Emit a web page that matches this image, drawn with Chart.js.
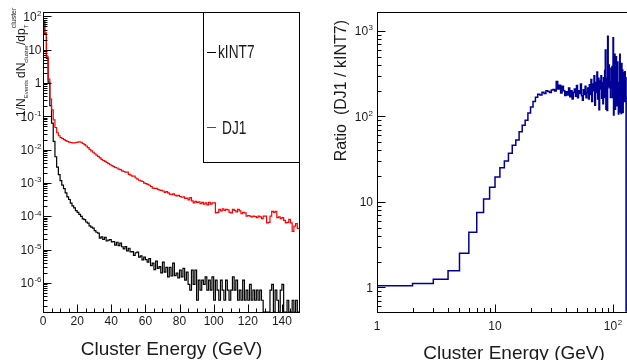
<!DOCTYPE html>
<html>
<head>
<meta charset="utf-8">
<script src="https://cdn.jsdelivr.net/npm/chart.js@4.4.1/dist/chart.umd.min.js"></script>
<style>
  html, body { margin: 0; padding: 0; background: #fff; }
  body { width: 627px; height: 360px; overflow: hidden; position: relative; }
  canvas { position: absolute; top: 0; }
  #spectra { left: 0; }
  #ratio { left: 313px; }
</style>
</head>
<body>
<canvas id="spectra" width="313" height="360"></canvas>
<canvas id="ratio" width="340" height="360"></canvas>
<script>
// Cluster energy spectra, 1 GeV bins from 0 to 150 GeV (bin i covers [i, i+1))
const kint7 = [
  72, 30.8, 5.5, 1.05, 0.21, 0.062, 0.0177, 0.0061, 0.00296, 0.00176,
  1.17e-3, 8.6e-4, 6.7e-4, 5.0e-4, 3.8e-4, 3.17e-4, 2.47e-4, 2.03e-4, 1.78e-4, 1.48e-4,
  1.30e-4, 1.13e-4, 9.9e-5, 8.35e-5, 7.9e-5, 6.7e-5, 6.2e-5, 5.1e-5, 4.7e-5, 4.4e-5,
  3.7e-5, 3.3e-5, 3.1e-5, 2.2e-5, 2.4e-5, 2.0e-5, 2.3e-5, 1.8e-5, 1.9e-5, 2.0e-5,
  1.69e-5, 1.74e-5, 1.35e-5, 1.65e-5, 1.30e-5, 1.56e-5, 1.21e-5, 1.05e-5, 1.22e-5, 9.1e-6,
  1.09e-5, 8.5e-6, 8.6e-6, 6.7e-6, 8.0e-6, 8.4e-6, 5.9e-6, 6.4e-6, 4.9e-6, 5.9e-6,
  5.0e-6, 4.2e-6, 5.3e-6, 3.3e-6, 3.9e-6, 2.5e-6, 4.5e-6, 2.7e-6, 3.05e-6, 2.0e-6,
  4.2e-6, 2.1e-6, 2.9e-6, 1.5e-6, 2.9e-6, 1.6e-6, 3.9e-6, 1.65e-6, 1.95e-6, 1.4e-6,
  2.4e-6, 1.5e-6, 2.7e-6, 1.2e-6, 2.1e-6, 9e-7, 6e-7, 2.4e-6, 9e-7, 2.4e-6,
  3e-7, 1.2e-6, 6e-7, 1.2e-6, 9e-7, 1.5e-6, 6e-7, 1.2e-6, 6e-7, 1.5e-6,
  3e-7, 1.2e-6, 6e-7, 3e-7, 1.2e-6, 6e-7, 3e-7, 1.2e-6, 6e-7, 3e-7,
  6e-7, 1.5e-6, 6e-7, 1.2e-6, 3e-7, 6e-7, 3e-7, 1.2e-6, 3e-7, 6e-7,
  3e-7, 9e-7, 3e-7, 6e-7, 3e-7, 6e-7, 3e-7, 6e-7, 3e-7, 0,
  0, 0, 0, 6e-7, 9e-7, 0, 6e-7, 3e-7, 0, 6e-7,
  9e-7, 0, 0, 3e-7, 0, 0, 3e-7, 0, 3e-7, 0
];
const dj1 = [
  75, 32, 6.1, 1.3, 0.33, 0.155, 0.078, 0.046, 0.032, 0.026,
  0.023, 0.0215, 0.020, 0.0185, 0.0175, 0.0168, 0.0163, 0.0160, 0.0160, 0.0163,
  0.0168, 0.0170, 0.0166, 0.0152, 0.0140, 0.0128, 0.0115, 0.0102, 0.0092, 0.0083,
  0.0075, 0.0068, 0.0062, 0.0056, 0.0051, 0.0047, 0.0044, 0.0041, 0.0038, 0.0035,
  0.0033, 0.0031, 0.0029, 0.0028, 0.0026, 0.0025, 0.0023, 0.0022, 0.0021, 0.0021,
  0.0018, 0.0017, 0.0016, 0.0016, 0.0014, 0.0013, 0.0012, 0.00115, 0.0011, 0.00098,
  0.00095, 0.0009, 0.00085, 0.00078, 0.0007, 0.00068, 0.00068, 0.00064, 0.00061, 0.0006,
  0.00057, 0.00052, 0.00055, 0.0005, 0.00046, 0.00044, 0.00047, 0.00043, 0.00041, 0.00042,
  3.9e-4, 3.7e-4, 3.8e-4, 3.4e-4, 3.5e-4, 3.1e-4, 3.6e-4, 2.9e-4, 2.5e-4, 2.8e-4,
  2.6e-4, 2.7e-4, 2.4e-4, 2.6e-4, 2.3e-4, 2.5e-4, 2.2e-4, 2.6e-4, 2.3e-4, 2.5e-4,
  2.5e-4, 1.25e-4, 1.3e-4, 1.6e-4, 1.45e-4, 1.65e-4, 1.5e-4, 1.6e-4, 1.55e-4, 1.3e-4,
  1.25e-4, 1.6e-4, 1.5e-4, 1.35e-4, 1.6e-4, 1.45e-4, 1.2e-4, 1.3e-4, 1.25e-4, 1.0e-4,
  1.05e-4, 1.0e-4, 9.5e-5, 1.0e-4, 9.8e-5, 9.0e-5, 1.0e-4, 9.5e-5, 8.5e-5, 1.0e-4,
  1.0e-4, 6.3e-5, 6.5e-5, 1.0e-4, 1.4e-4, 1.3e-4, 1.4e-4, 9e-5, 9.5e-5, 8.5e-5,
  9e-5, 7.5e-5, 6.3e-5, 6.5e-5, 8e-5, 6.3e-5, 3.5e-5, 5e-5, 6e-5, 4.3e-5
];
// DJ1 / kINT7 per bin, first entry is the 1-2 GeV bin
const ratio = [
  1.04, 1.11, 1.24, 1.56, 2.5, 4.4, 7.5, 10.8, 14.8,
  19.6, 25, 30, 37, 46, 53, 66, 79, 90, 110,
  129, 150, 168, 182, 178, 192, 186, 200, 196, 190,
  204, 206, 198, 256, 210, 232, 188, 225, 200, 176,
  195, 178, 215, 170, 200, 160, 190, 210, 172, 230,
  165, 200, 185, 240, 175, 155, 205, 180, 225, 165,
  190, 215, 160, 235, 180, 270, 150, 240, 200, 300,
  135, 250, 190, 330, 160, 280, 120, 260, 210, 300,
  163, 247, 141, 283, 167, 344, 600, 121, 278, 117,
  867, 225, 400, 217, 256, 167, 367, 217, 383, 167,
  833, 104, 217, 533, 121, 275, 500, 133, 258, 433,
  208, 107, 250, 113, 533, 242, 400, 108, 417, 167,
  350, 111, 317, 167, 327, 150, 333, 158, 283, 0,
  0, 0, 0, 167, 156, 0, 233, 300, 0, 142,
  100, 0, 0, 217, 0, 0, 117, 0, 200, 0
];

const spectraXTicks = [0, 20, 40, 60, 80, 100, 120, 140];
const spectraYDecades = [-6, -5, -4, -3, -2, -1, 0, 1, 2];
const ratioXDecades = [0, 1, 2];
const ratioYDecades = [0, 1, 2, 3];

const FONT = '"Liberation Sans", Arial, Helvetica, sans-serif';
const TEXT = '#1a1a1a';
const SPECTRA_Y_MIN = 1.33e-7, SPECTRA_Y_MAX = 135;
const RATIO_Y_MIN = 0.518, RATIO_Y_MAX = 1668;

// step outline: one point per lower bin edge plus the last upper edge;
// empty bins sit on the axis floor like in ROOT
function histPoints(values, firstEdge, floor) {
  const pts = values.map((v, i) => ({ x: firstEdge + i, y: v > 0 ? v : floor }));
  pts.push({ x: firstEdge + values.length, y: pts[pts.length - 1].y });
  return pts;
}

// 1, 10 or 10^n, y is the vertical middle of the digits
function powerLabel(ctx, exp, x, y, align) {
  const base = exp === 0 ? '1' : '10';
  const sup = (exp === 0 || exp === 1) ? '' : String(exp);
  ctx.font = '12px ' + FONT;
  const wb = ctx.measureText(base).width;
  ctx.font = '8px ' + FONT;
  const ws = sup ? ctx.measureText(sup).width + 0.5 : 0;
  const total = wb + ws;
  const left = align === 'right' ? x - total : x - total / 2;
  ctx.textAlign = 'left';
  ctx.textBaseline = 'alphabetic';
  ctx.fillStyle = TEXT;
  ctx.font = '12px ' + FONT;
  ctx.fillText(base, left, y + 4.3);
  if (sup) {
    ctx.font = '8px ' + FONT;
    ctx.fillText(sup, left + wb + 0.5, y - 0.5);
  }
}

function tick(ctx, x1, y1, x2, y2) {
  ctx.beginPath();
  ctx.moveTo(x1, y1);
  ctx.lineTo(x2, y2);
  ctx.stroke();
}

function drawFrame(ctx, a) {
  ctx.strokeStyle = '#000';
  ctx.lineWidth = 1;
  ctx.strokeRect(Math.round(a.left) + 0.5, Math.round(a.top) + 0.5,
    Math.round(a.right - a.left), Math.round(a.bottom - a.top));
}

// log y ticks on the left edge, decades long and 2..9 short
function logYTicks(ctx, scale, a, decades) {
  const x0 = Math.round(a.left) + 0.5;
  for (let d = decades[0] - 1; d <= decades[decades.length - 1]; d++) {
    for (let m = 1; m <= 9; m++) {
      const v = m * Math.pow(10, d);
      if (v < scale.min || v > scale.max) continue;
      const y = Math.round(scale.getPixelForValue(v)) + 0.5;
      tick(ctx, x0, y, x0 + (m === 1 ? 8 : 4), y);
    }
  }
}

const spectraDecor = {
  id: 'spectraDecor',
  afterDatasetsDraw(chart) {
    const ctx = chart.ctx, a = chart.chartArea;
    const xs = chart.scales.x, ys = chart.scales.y;
    ctx.save();
    drawFrame(ctx, a);
    logYTicks(ctx, ys, a, spectraYDecades);
    const yb = Math.round(a.bottom) + 0.5;
    for (let e = 0; e <= 150; e += 5) {
      const x = Math.round(xs.getPixelForValue(e)) + 0.5;
      tick(ctx, x, yb, x, yb - (e % 20 === 0 ? 8 : 4));
    }
    ctx.font = '12px ' + FONT;
    ctx.fillStyle = TEXT;
    ctx.textAlign = 'center';
    ctx.textBaseline = 'alphabetic';
    spectraXTicks.forEach(t => ctx.fillText(String(t), xs.getPixelForValue(t), 324.6));
    spectraYDecades.forEach(d => powerLabel(ctx, d, 41.5, ys.getPixelForValue(Math.pow(10, d)), 'right'));

    // x title
    ctx.font = '19px ' + FONT;
    ctx.textAlign = 'center';
    ctx.fillStyle = TEXT;
    ctx.fillText('Cluster Energy (GeV)', 171.5, 355.3);

    // y title 1/N_Events dN_cluster/dp_T^cluster
    ctx.save();
    ctx.translate(25, 117);
    ctx.rotate(-Math.PI / 2);
    ctx.textAlign = 'left';
    let cx = 0;
    const seg = (txt, size, dy) => {
      ctx.font = size + 'px ' + FONT;
      ctx.fillText(txt, cx, dy);
      return ctx.measureText(txt).width;
    };
    cx += seg('1/N', 12, 0);
    cx += seg('Events', 6, 3);
    cx += 2;
    cx += seg('dN', 12, 0);
    cx += seg('cluster', 6, 3);
    cx += seg('/dp', 12, 0);
    seg('T', 6, 3);
    seg('cluster', 7, -9);
    ctx.restore();

    // legend box
    ctx.fillStyle = '#fff';
    ctx.fillRect(204, 13, 95, 149);
    ctx.strokeStyle = '#000';
    ctx.lineWidth = 1;
    ctx.strokeRect(203.5, 12.5, 96, 150);
    const entries = [
      { label: 'kINT7', color: '#000', y: 52, tx: 218, ty: 57.5 },
      { label: 'DJ1', color: '#ff0000', y: 127, tx: 222, ty: 133.5 }
    ];
    entries.forEach(en => {
      ctx.strokeStyle = en.color;
      tick(ctx, 207, en.y + 0.5, 216, en.y + 0.5);
      ctx.save();
      ctx.translate(en.tx, en.ty);
      ctx.scale(0.72, 1);
      ctx.font = '19px ' + FONT;
      ctx.fillStyle = TEXT;
      ctx.textAlign = 'left';
      ctx.fillText(en.label, 0, 0);
      ctx.restore();
    });
    ctx.restore();
  }
};

const ratioDecor = {
  id: 'ratioDecor',
  afterDatasetsDraw(chart) {
    const ctx = chart.ctx, a = chart.chartArea;
    const xs = chart.scales.x, ys = chart.scales.y;
    ctx.save();
    drawFrame(ctx, a);
    logYTicks(ctx, ys, a, ratioYDecades);
    const yb = Math.round(a.bottom) + 0.5;
    for (let d = 0; d <= 2; d++) {
      for (let m = 1; m <= 9; m++) {
        const v = m * Math.pow(10, d);
        if (v > xs.max) continue;
        const x = Math.round(xs.getPixelForValue(v)) + 0.5;
        tick(ctx, x, yb, x, yb - (m === 1 ? 8 : 4.5));
      }
    }
    ratioXDecades.forEach(d => powerLabel(ctx, d, xs.getPixelForValue(Math.pow(10, d)), 325.5, 'center'));
    ratioYDecades.forEach(d => powerLabel(ctx, d, 60, ys.getPixelForValue(Math.pow(10, d)), 'right'));

    ctx.font = '19px ' + FONT;
    ctx.fillStyle = TEXT;
    ctx.textAlign = 'center';
    ctx.textBaseline = 'alphabetic';
    ctx.fillText('Cluster Energy (GeV)', 201, 358.6);

    ctx.save();
    ctx.translate(33, 20);
    ctx.rotate(-Math.PI / 2);
    ctx.font = '16px ' + FONT;
    ctx.textAlign = 'right';
    ctx.fillText('Ratio  (DJ1 / kINT7)', 0, 0);
    ctx.restore();
    ctx.restore();
  }
};

const commonOptions = {
  responsive: false,
  animation: false,
  devicePixelRatio: 1,
  events: [],
  plugins: { legend: { display: false }, tooltip: { enabled: false } },
  elements: { point: { radius: 0 }, line: { tension: 0 } }
};

new Chart(document.getElementById('spectra').getContext('2d'), {
  type: 'line',
  data: {
    datasets: [
      { label: 'DJ1', data: histPoints(dj1, 0, SPECTRA_Y_MIN), borderColor: '#ff0000', borderWidth: 1.2, stepped: true, fill: false },
      { label: 'kINT7', data: histPoints(kint7, 0, SPECTRA_Y_MIN), borderColor: '#000000', borderWidth: 1.2, stepped: true, fill: false }
    ]
  },
  options: Object.assign({}, commonOptions, {
    layout: { padding: { left: 43, right: 14, top: 12, bottom: 48 } },
    scales: {
      x: { type: 'linear', min: 0, max: 150, display: false },
      y: { type: 'logarithmic', min: SPECTRA_Y_MIN, max: SPECTRA_Y_MAX, display: false }
    }
  }),
  plugins: [spectraDecor]
});

new Chart(document.getElementById('ratio').getContext('2d'), {
  type: 'line',
  data: {
    datasets: [
      { label: 'DJ1 / kINT7', data: histPoints(ratio, 1, RATIO_Y_MIN), borderColor: '#000096', borderWidth: 1.5, stepped: true, fill: false }
    ]
  },
  options: Object.assign({}, commonOptions, {
    layout: { padding: { left: 64, right: 19.2, top: 12, bottom: 48.3 } },
    scales: {
      x: { type: 'logarithmic', min: 1, max: 150, display: false },
      y: { type: 'logarithmic', min: RATIO_Y_MIN, max: RATIO_Y_MAX, display: false }
    }
  }),
  plugins: [ratioDecor]
});
</script>
</body>
</html>
